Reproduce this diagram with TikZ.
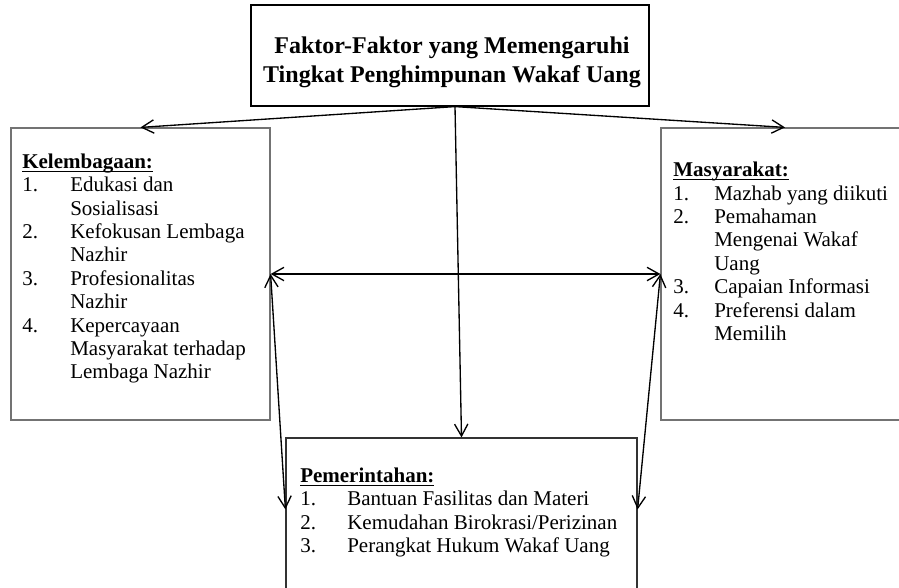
\documentclass[tikz,border=0pt]{standalone}
\usepackage{fontspec}
\setmainfont{Liberation Serif}
\usepackage{tikz}
\usetikzlibrary{arrows.meta, positioning, calc}

\newcommand{\subjudul}[1]{\setbox0\hbox{\textbf{#1}}\rlap{\rule[-2.6pt]{\wd0}{0.8pt}}\box0}

\begin{document}
\begin{tikzpicture}[x=0.75pt, y=-0.75pt]
\tikzstyle{kotak} = [rectangle, draw=black!55, line width=0.9pt, inner sep=0pt]
\tikzstyle{daftar} = [anchor=north west, inner sep=0pt, font=\fontsize{15.75}{17.55}\selectfont]
\tikzstyle{panah} = [-{Straight Barb[length=9pt, width=10pt]}, line width=1pt]
\tikzstyle{panahdua} = [{Straight Barb[length=9pt, width=10pt]}-{Straight Barb[length=9pt, width=10pt]}, line width=1pt]

\useasboundingbox (0,0) rectangle (899,588);

\node (judul) [kotak, draw=black, minimum width=298.5pt, minimum height=75.75pt] at (450,55.5) {};
\node (judulteks) [font=\fontsize{18}{21.75}\selectfont\bfseries, align=center] at (452,62) {Faktor-Faktor yang Memengaruhi\\Tingkat Penghimpunan Wakaf Uang};

\node (kelembagaan) [kotak, minimum width=194.25pt, minimum height=219pt] at (140.5,274) {};
\node (masyarakat) [kotak, minimum width=186pt, minimum height=219pt] at (785,274) {};
\node (pemerintahan) [kotak, draw=black!80, minimum width=263.25pt, minimum height=129pt] at (461.5,524) {};

\node (kelembagaanteks) [daftar] at (22,151.6) {\begin{tabular}{@{}p{36pt}@{}l@{}}
\multicolumn{2}{@{}l@{}}{\subjudul{Kelembagaan:}}\\
1. & Edukasi dan\\
   & Sosialisasi\\
2. & Kefokusan Lembaga\\
   & Nazhir\\
3. & Profesionalitas\\
   & Nazhir\\
4. & Kepercayaan\\
   & Masyarakat terhadap\\
   & Lembaga Nazhir
\end{tabular}};

\node (masyarakatteks) [daftar] at (673,160) {\begin{tabular}{@{}p{30.75pt}@{}l@{}}
\multicolumn{2}{@{}l@{}}{\subjudul{Masyarakat:}}\\
1. & Mazhab yang diikuti\\
2. & Pemahaman\\
   & Mengenai Wakaf\\
   & Uang\\
3. & Capaian Informasi\\
4. & Preferensi dalam\\
   & Memilih
\end{tabular}};

\node (pemerintahanteks) [daftar] at (300,465.6) {\begin{tabular}{@{}p{35.25pt}@{}l@{}}
\multicolumn{2}{@{}l@{}}{\subjudul{Pemerintahan:}}\\
1. & Bantuan Fasilitas  dan Materi\\
2. & Kemudahan Birokrasi/Perizinan\\
3. & Perangkat Hukum Wakaf Uang
\end{tabular}};

\coordinate (pangkal) at ([xshift=3.75pt]judul.south);
\coordinate (kirisisi) at ([yshift=-54pt]pemerintahan.north west);
\coordinate (kanansisi) at ([yshift=-54pt]pemerintahan.north east);

\draw[panah] (pangkal) -- (kelembagaan.north);
\draw[panah] (pangkal) -- (masyarakat.north);
\draw[panah] (pangkal) -- (pemerintahan.north);
\draw[panahdua] (kelembagaan.east) -- (masyarakat.west);
\draw[panahdua] (kelembagaan.east) -- (kirisisi);
\draw[panahdua] (masyarakat.west) -- (kanansisi);

\end{tikzpicture}
\end{document}
